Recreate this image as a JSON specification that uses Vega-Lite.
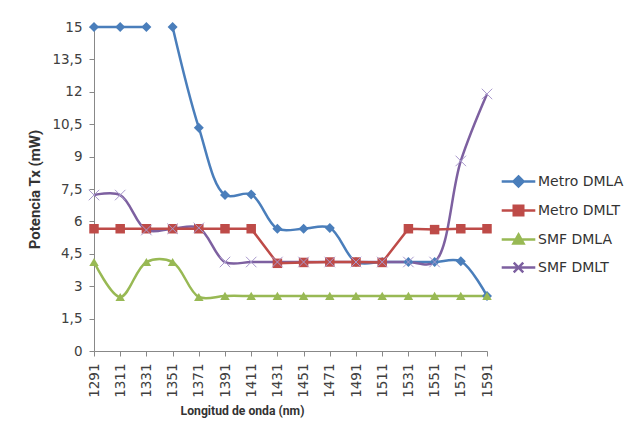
{
  "$schema": "https://vega.github.io/schema/vega-lite/v6.json",
  "width": 393,
  "height": 324,
  "autosize": {"type": "none"},
  "padding": {"left": 94, "top": 27, "right": 141, "bottom": 93},
  "background": "white",
  "config": {
    "view": {"stroke": null},
    "axis": {"labelFont": "DejaVu Sans", "titleFont": "Roboto", "labelColor": "#404040", "titleColor": "#333333", "domainColor": "#888888", "tickColor": "#888888", "grid": false, "tickSize": 5, "labelFontSize": 13.5, "titleFontSize": 12.2, "titleFontWeight": "bold"},
    "legend": {"labelFont": "DejaVu Sans", "labelFontSize": 14, "labelColor": "#333333"}
  },
  "data": {
    "values": [
      {"series": "Metro DMLA", "x": 1291, "y": 15, "seg": "a"},
      {"series": "Metro DMLA", "x": 1311, "y": 15, "seg": "a"},
      {"series": "Metro DMLA", "x": 1331, "y": 15, "seg": "a"},
      {"series": "Metro DMLA", "x": 1351, "y": 15, "seg": "b"},
      {"series": "Metro DMLA", "x": 1371, "y": 10.34, "seg": "b"},
      {"series": "Metro DMLA", "x": 1391, "y": 7.22, "seg": "b"},
      {"series": "Metro DMLA", "x": 1411, "y": 7.25, "seg": "b"},
      {"series": "Metro DMLA", "x": 1431, "y": 5.66, "seg": "b"},
      {"series": "Metro DMLA", "x": 1451, "y": 5.66, "seg": "b"},
      {"series": "Metro DMLA", "x": 1471, "y": 5.7, "seg": "b"},
      {"series": "Metro DMLA", "x": 1491, "y": 4.12, "seg": "b"},
      {"series": "Metro DMLA", "x": 1511, "y": 4.12, "seg": "b"},
      {"series": "Metro DMLA", "x": 1531, "y": 4.12, "seg": "b"},
      {"series": "Metro DMLA", "x": 1551, "y": 4.12, "seg": "b"},
      {"series": "Metro DMLA", "x": 1571, "y": 4.15, "seg": "b"},
      {"series": "Metro DMLA", "x": 1591, "y": 2.55, "seg": "b"},
      {"series": "Metro DMLT", "x": 1291, "y": 5.66, "seg": "a"},
      {"series": "Metro DMLT", "x": 1311, "y": 5.66, "seg": "a"},
      {"series": "Metro DMLT", "x": 1331, "y": 5.66, "seg": "a"},
      {"series": "Metro DMLT", "x": 1351, "y": 5.66, "seg": "a"},
      {"series": "Metro DMLT", "x": 1371, "y": 5.66, "seg": "a"},
      {"series": "Metro DMLT", "x": 1391, "y": 5.66, "seg": "a"},
      {"series": "Metro DMLT", "x": 1411, "y": 5.66, "seg": "a"},
      {"series": "Metro DMLT", "x": 1431, "y": 4.06, "seg": "a"},
      {"series": "Metro DMLT", "x": 1451, "y": 4.1, "seg": "a"},
      {"series": "Metro DMLT", "x": 1471, "y": 4.12, "seg": "a"},
      {"series": "Metro DMLT", "x": 1491, "y": 4.12, "seg": "a"},
      {"series": "Metro DMLT", "x": 1511, "y": 4.1, "seg": "a"},
      {"series": "Metro DMLT", "x": 1531, "y": 5.66, "seg": "a"},
      {"series": "Metro DMLT", "x": 1551, "y": 5.62, "seg": "a"},
      {"series": "Metro DMLT", "x": 1571, "y": 5.66, "seg": "a"},
      {"series": "Metro DMLT", "x": 1591, "y": 5.66, "seg": "a"},
      {"series": "SMF DMLA", "x": 1291, "y": 4.12, "seg": "a"},
      {"series": "SMF DMLA", "x": 1311, "y": 2.5, "seg": "a"},
      {"series": "SMF DMLA", "x": 1331, "y": 4.12, "seg": "a"},
      {"series": "SMF DMLA", "x": 1351, "y": 4.12, "seg": "a"},
      {"series": "SMF DMLA", "x": 1371, "y": 2.5, "seg": "a"},
      {"series": "SMF DMLA", "x": 1391, "y": 2.55, "seg": "a"},
      {"series": "SMF DMLA", "x": 1411, "y": 2.55, "seg": "a"},
      {"series": "SMF DMLA", "x": 1431, "y": 2.55, "seg": "a"},
      {"series": "SMF DMLA", "x": 1451, "y": 2.55, "seg": "a"},
      {"series": "SMF DMLA", "x": 1471, "y": 2.55, "seg": "a"},
      {"series": "SMF DMLA", "x": 1491, "y": 2.55, "seg": "a"},
      {"series": "SMF DMLA", "x": 1511, "y": 2.55, "seg": "a"},
      {"series": "SMF DMLA", "x": 1531, "y": 2.55, "seg": "a"},
      {"series": "SMF DMLA", "x": 1551, "y": 2.55, "seg": "a"},
      {"series": "SMF DMLA", "x": 1571, "y": 2.55, "seg": "a"},
      {"series": "SMF DMLA", "x": 1591, "y": 2.55, "seg": "a"},
      {"series": "SMF DMLT", "x": 1291, "y": 7.22, "seg": "a"},
      {"series": "SMF DMLT", "x": 1311, "y": 7.22, "seg": "a"},
      {"series": "SMF DMLT", "x": 1331, "y": 5.6, "seg": "a"},
      {"series": "SMF DMLT", "x": 1351, "y": 5.66, "seg": "a"},
      {"series": "SMF DMLT", "x": 1371, "y": 5.7, "seg": "a"},
      {"series": "SMF DMLT", "x": 1391, "y": 4.12, "seg": "a"},
      {"series": "SMF DMLT", "x": 1411, "y": 4.12, "seg": "a"},
      {"series": "SMF DMLT", "x": 1431, "y": 4.12, "seg": "a"},
      {"series": "SMF DMLT", "x": 1451, "y": 4.12, "seg": "a"},
      {"series": "SMF DMLT", "x": 1471, "y": 4.12, "seg": "a"},
      {"series": "SMF DMLT", "x": 1491, "y": 4.12, "seg": "a"},
      {"series": "SMF DMLT", "x": 1511, "y": 4.12, "seg": "a"},
      {"series": "SMF DMLT", "x": 1531, "y": 4.12, "seg": "a"},
      {"series": "SMF DMLT", "x": 1551, "y": 4.12, "seg": "a"},
      {"series": "SMF DMLT", "x": 1571, "y": 8.8, "seg": "a"},
      {"series": "SMF DMLT", "x": 1591, "y": 11.9, "seg": "a"}
    ]
  },
  "encoding": {
    "x": {
      "field": "x", "type": "ordinal", "sort": "ascending",
      "scale": {"type": "point", "padding": 0},
      "axis": {"title": "Longitud de onda (nm)", "labelAngle": 270, "labelAlign": "right", "labelBaseline": "middle", "labelPadding": 7, "titleX": 148, "titleY": 59, "titleBaseline": "middle", "titleAnchor": "middle"}
    },
    "y": {
      "field": "y", "type": "quantitative",
      "scale": {"domain": [0, 15], "nice": false, "zero": true},
      "axis": {"title": "Potencia Tx (mW)", "titleFontSize": 15, "values": [0, 1.5, 3, 4.5, 6, 7.5, 9, 10.5, 12, 13.5, 15], "labelExpr": "replace(format(datum.value, '.1~f'), '.', ',')", "labelPadding": 7, "titleX": -60, "titleY": 162, "titleAngle": -90, "titleBaseline": "middle", "titleAnchor": "middle"}
    }
  },
  "layer": [
    {
      "transform": [{"filter": "datum.series !== 'Metro DMLT'"}],
      "mark": {"type": "line", "interpolate": "catmull-rom", "strokeWidth": 2.5},
      "encoding": {
        "color": {
          "field": "series", "type": "nominal",
          "scale": {"domain": ["Metro DMLA", "Metro DMLT", "SMF DMLA", "SMF DMLT"], "range": ["#4A7EBB", "#BE4B48", "#98B954", "#7D60A0"]},
          "legend": {
            "title": null, "orient": "none", "legendX": 409, "legendY": 139,
            "symbolSize": 784, "rowPadding": 3, "labelOffset": 4,
            "encode": {
              "symbols": {
                "update": {
                  "shape": {"signal": "datum.value === 'Metro DMLA' ? 'M-1.2,0H1.2M0,-0.36L0.36,0L0,0.36L-0.36,0Z' : datum.value === 'Metro DMLT' ? 'M-1.2,0H1.2M-0.34,-0.34H0.34V0.34H-0.34Z' : datum.value === 'SMF DMLA' ? 'M-1.2,0H1.2M0,-0.36L0.36,0.28L-0.36,0.28Z' : 'M-1.2,0H1.2M-0.34,-0.34L0.34,0.34M0.34,-0.34L-0.34,0.34'"},
                  "fill": {"scale": "color", "field": "value"},
                  "stroke": {"scale": "color", "field": "value"},
                  "strokeWidth": {"value": 2.5},
                  "size": {"value": 784},
                  "opacity": {"value": 1}
                }
              }
            }
          }
        },
        "detail": {"field": "seg"}
      }
    },
    {
      "transform": [{"filter": "datum.series === 'Metro DMLT'"}],
      "mark": {"type": "line", "interpolate": "linear", "strokeWidth": 2.5},
      "encoding": {
        "color": {"field": "series", "type": "nominal"}
      }
    },
    {
      "transform": [{"filter": "datum.series === 'Metro DMLA'"}],
      "mark": {"type": "point", "filled": true, "opacity": 1, "shape": "diamond", "size": 100},
      "encoding": {"color": {"field": "series", "type": "nominal"}}
    },
    {
      "transform": [{"filter": "datum.series === 'Metro DMLT'"}],
      "mark": {"type": "point", "filled": true, "opacity": 1, "shape": "square", "size": 90},
      "encoding": {"color": {"field": "series", "type": "nominal"}}
    },
    {
      "transform": [{"filter": "datum.series === 'SMF DMLA'"}],
      "mark": {"type": "point", "filled": true, "opacity": 1, "shape": "triangle-up", "size": 90},
      "encoding": {"color": {"field": "series", "type": "nominal"}}
    },
    {
      "transform": [{"filter": "datum.series === 'SMF DMLT'"}],
      "mark": {"type": "point", "filled": false, "opacity": 1, "shape": "M-1,-1L1,1M1,-1L-1,1", "size": 110, "strokeWidth": 1, "color": "#A898CC"},
      "encoding": {}
    }
  ]
}
